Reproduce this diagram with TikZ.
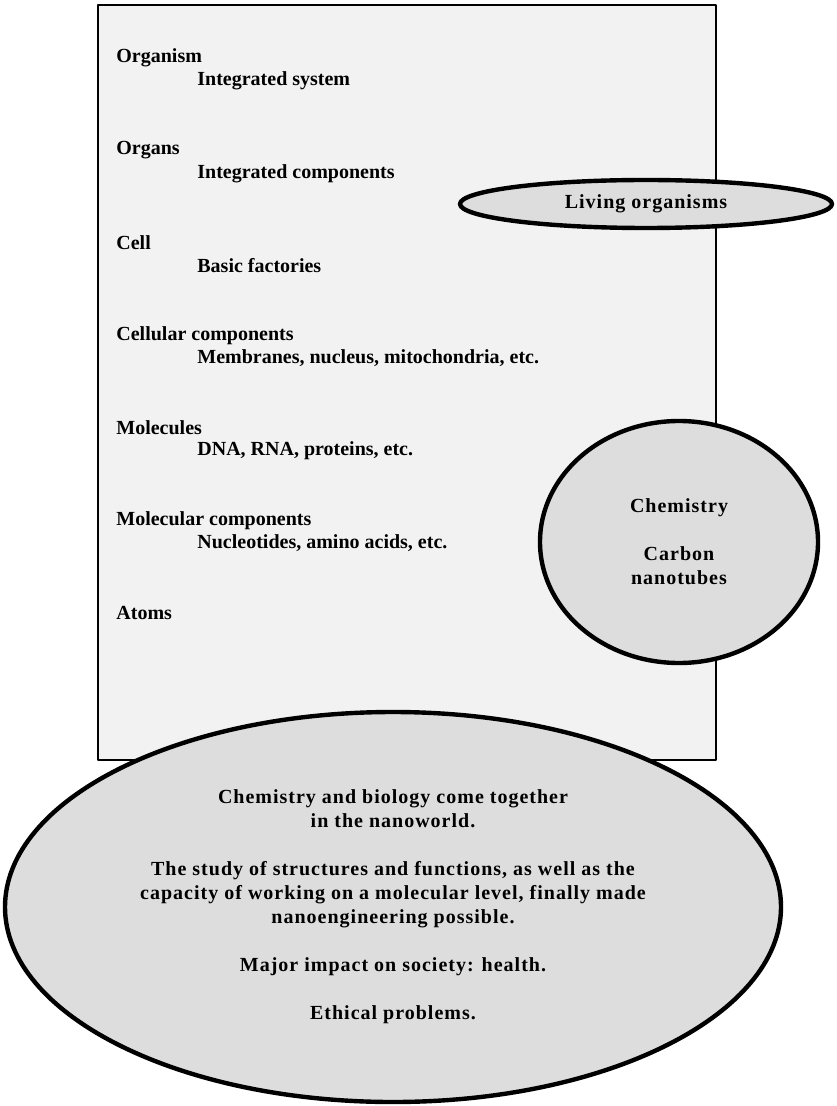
\documentclass[tikz,border=0pt]{standalone}
\usepackage{fontspec}
\setmainfont{Liberation Serif}
\newfontfamily\spaced{Liberation Serif}[LetterSpace=5]
\usetikzlibrary{shapes.geometric}
\definecolor{boxgray}{HTML}{F2F2F2}
\definecolor{ovalgray}{HTML}{DDDDDD}
\tikzset{
  levelbox/.style={draw=black, line width=0.8pt, fill=boxgray},
  oval/.style={ellipse, draw=black, line width=2.2pt, fill=ovalgray, inner sep=0pt,
    align=center, font=\spaced\bfseries},
  head/.style={anchor=west, inner sep=0pt, font=\bfseries},
}
\begin{document}
\begin{tikzpicture}[x=0.5pt, y=-0.5pt, line join=round, line cap=round]
\useasboundingbox (0,0) rectangle (836,1106);
\path
(98,5) coordinate (TL)
(716,760) coordinate (BR)
(646,204) coordinate (L)
(679,542) coordinate (C)
(393,907) coordinate (B);

\draw[levelbox] (TL) rectangle (BR);

% levels of organisation
\foreach \head/\sub [count=\i from 0] in {Organism/Integrated system, Organs/Integrated components, Cell/Basic factories, Cellular components/{Membranes, nucleus, mitochondria, etc.}, Molecules/{DNA, RNA, proteins, etc.}, Molecular components/{Nucleotides, amino acids, etc.}, Atoms/{}}
{
\node[head] (h\i) at (116, 58+92.5*\i) {\head};
\node[head] (s\i) at (197, 81+92.5*\i) {\sub};
}

\node[oval, minimum width=186pt, minimum height=24pt] (living) at (L) {Living organisms};
\node[oval, minimum width=139pt, minimum height=121pt] (chem) at (C) {Chemistry\\[12pt]Carbon\\nanotubes};
\node[oval, minimum width=388pt, minimum height=195pt] (nano) at (B)
{Chemistry and biology come together\\in the nanoworld.\\[12pt]
The study of structures and functions, as well as the\\capacity of working on a molecular level, finally made\\nanoengineering possible.\\[12pt]
Major impact on society: health.\\[12pt]
Ethical problems.};
\end{tikzpicture}
\end{document}
